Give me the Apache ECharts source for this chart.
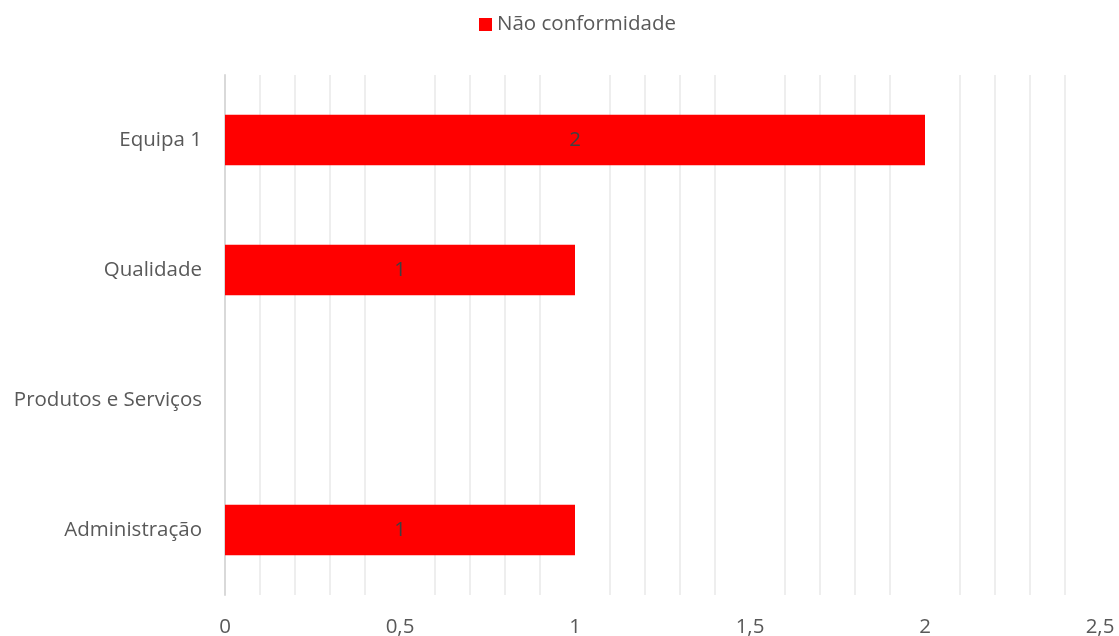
<!DOCTYPE html>
<html>
<head>
<meta charset="utf-8">
<script src="https://cdn.jsdelivr.net/npm/echarts@6/dist/echarts.min.js"></script>
<style>
  html,body{margin:0;padding:0;background:#fff;}
  #chart{width:1119px;height:636px;}
</style>
</head>
<body>
<div id="chart"></div>
<script>
// categorias de baixo para cima
const categories = ['Administração', 'Produtos e Serviços', 'Qualidade', 'Equipa 1']
const naoConformidade = [1, null, 1, 2]
const seriesName = 'Não conformidade'

const chart = echarts.init(document.getElementById('chart'))
const font = '"Open Sans", "Noto Sans", sans-serif'

let option = {
  animation: false,
  textStyle: { fontFamily: font },
  legend: {
    top: 9,
    left: 474,
    itemWidth: 13,
    itemHeight: 13,
    itemGap: 6,
    textStyle: { color: '#595959', fontSize: 20.5, fontFamily: font },
    data: [{ name: seriesName, icon: 'rect' }]
  },
  grid: {
    top: 75,
    bottom: 41,
    left: 225,
    right: 19,
    containLabel: false,
    outerBoundsMode: 'none'
  },
  xAxis: {
    type: 'value',
    min: 0,
    max: 2.5,
    interval: 0.5,
    axisLine: { show: false },
    axisTick: { show: false },
    splitLine: { show: false },
    minorTick: { show: true, splitNumber: 5, length: 0, lineStyle: { opacity: 0 } },
    minorSplitLine: { show: true, lineStyle: { color: '#e9e9e9', width: 1.5 } },
    axisLabel: {
      color: '#595959',
      fontSize: 20.5,
      margin: 22,
      formatter: v => String(v).replace('.', ',')
    }
  },
  yAxis: {
    type: 'category',
    data: categories,
    axisLine: { show: true, lineStyle: { color: '#d9d9d9', width: 2 } },
    axisTick: { show: false },
    axisLabel: { color: '#595959', fontSize: 20.5, margin: 23 }
  },
  series: [
    {
      name: seriesName,
      type: 'bar',
      data: naoConformidade,
      barWidth: '39%',
      itemStyle: { color: '#ff0000' },
      label: {
        show: true,
        position: 'inside',
        color: '#404040',
        fontSize: 20.5,
        fontFamily: font
      }
    }
  ]
}
chart.setOption(option)
</script>
</body>
</html>
